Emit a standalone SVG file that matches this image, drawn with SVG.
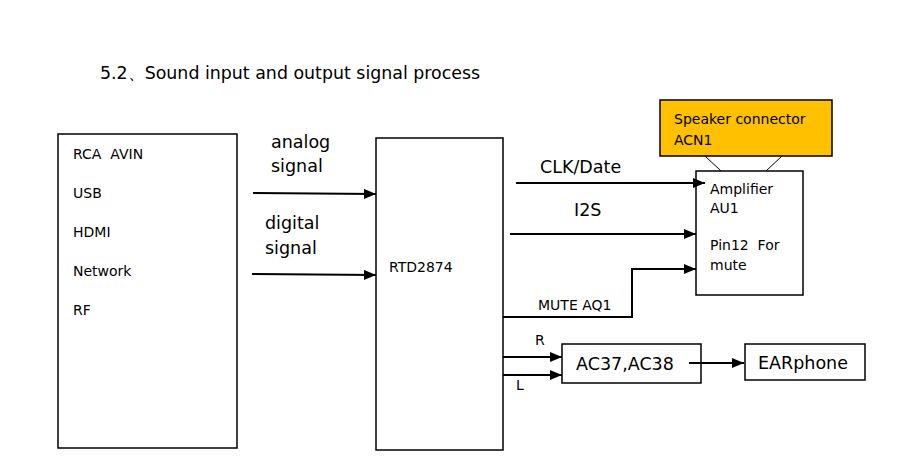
<svg xmlns="http://www.w3.org/2000/svg" width="907" height="459" viewBox="0 0 907 459">
<defs>
<marker id="ah" viewBox="0 0 12 10" refX="12" refY="5" markerWidth="12" markerHeight="10" markerUnits="userSpaceOnUse" orient="auto">
<path d="M0,0 L12,5 L0,10 z" fill="#000"/>
</marker>
</defs>
<style>
text{font-family:"DejaVu Sans",Verdana,sans-serif;fill:#000;white-space:pre}
.s{font-size:14px}
.m{font-size:17.5px}
.box{fill:#fff;stroke:#000;stroke-width:1.5}
.c{fill:none;stroke:#000;stroke-width:2;marker-end:url(#ah)}
.l{fill:none;stroke:#000;stroke-width:1}
</style>
<rect width="907" height="459" fill="#fff"/>
<text x="100" y="79" style="font-size:17.4px">5.2、Sound input and output signal process</text>
<g id="sources">
<rect class="box" x="58" y="134" width="179" height="314"/>
<text class="s" x="73" y="159">RCA  AVIN</text>
<text class="s" x="73" y="198">USB</text>
<text class="s" x="73" y="237">HDMI</text>
<text class="s" x="73" y="276">Network</text>
<text class="s" x="73" y="315">RF</text>
</g>
<g id="rtd2874">
<rect class="box" x="376" y="138" width="127" height="312"/>
<text class="s" x="389" y="272">RTD2874</text>
</g>
<g id="speaker">
<rect x="660" y="100" width="172" height="56" fill="#FFC000" stroke="#000" stroke-width="1.5"/>
<text class="s" x="674" y="124">Speaker connector</text>
<text class="s" x="674" y="145">ACN1</text>
</g>
<g id="amplifier">
<rect class="box" x="696" y="171" width="107" height="124"/>
<text class="s" x="710" y="194">Amplifier</text>
<text class="s" x="710" y="213">AU1</text>
<text class="s" x="710" y="250">Pin12  For</text>
<text class="s" x="710" y="270">mute</text>
</g>
<g id="ac37">
<rect class="box" x="562" y="344" width="139" height="39"/>
<text class="m" x="576" y="370">AC37,AC38</text>
</g>
<g id="earphone">
<rect class="box" x="745" y="344" width="120" height="36"/>
<text class="m" x="758" y="369">EARphone</text>
</g>
<g id="connectors">
<path class="c" d="M253,193 L376,194"/>
<path class="c" d="M252,274 L376,275"/>
<path class="c" d="M516,183 L705,183"/>
<path class="c" d="M510,234 L696,234"/>
<path class="c" d="M503,317 L632,317 L632,269 L696,269"/>
<path class="l" d="M705,156 L721,171"/>
<path class="l" d="M782,156 L766,171"/>
<path class="c" d="M503,357 L562,357"/>
<path class="c" d="M503,375 L562,375"/>
<path class="c" d="M689,363 L744,363"/>
</g>
<g id="labels">
<text class="m" x="271" y="148">analog</text>
<text class="m" x="271" y="172">signal</text>
<text class="m" x="265" y="229">digital</text>
<text class="m" x="265" y="254">signal</text>
<text class="m" x="540" y="173">CLK/Date</text>
<text class="m" x="574" y="216">I2S</text>
<text class="s" x="538" y="310">MUTE AQ1</text>
<text class="s" x="535" y="345">R</text>
<text class="s" x="516" y="390">L</text>
</g>
</svg>
